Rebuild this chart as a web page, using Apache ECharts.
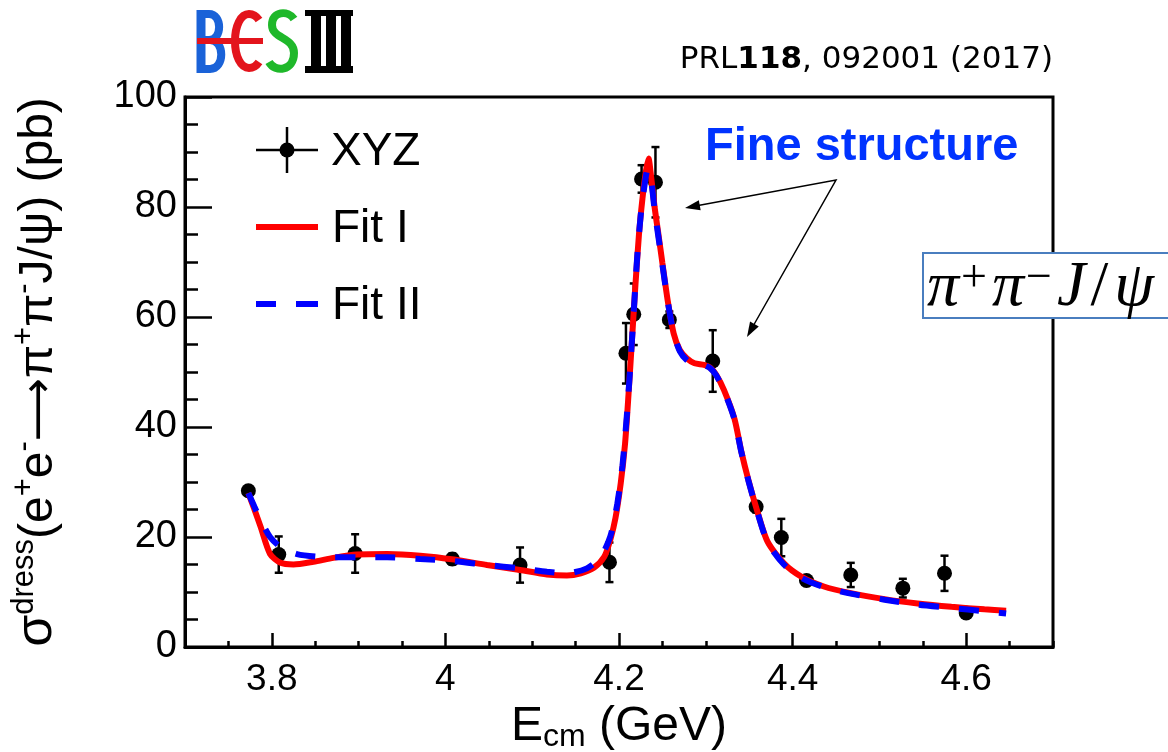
<!DOCTYPE html>
<html><head><meta charset="utf-8">
<script src="https://cdn.jsdelivr.net/npm/echarts@6/dist/echarts.min.js"></script>
<style>html,body{margin:0;padding:0;background:#fff}#c{width:1168px;height:752px}</style>
</head><body><div id="c"></div>
<script>
// ---- data ----
const energies = [3.773, 3.808, 3.896, 4.008, 4.086, 4.189, 4.208, 4.217, 4.226, 4.242, 4.258, 4.308, 4.358, 4.387, 4.416, 4.467, 4.527, 4.575, 4.600];
const xsec     = [28.4, 16.8, 17.0, 16.0, 14.9, 15.4, 53.4, 60.5, 85.1, 84.5, 59.5, 52.0, 25.5, 19.9, 12.1, 13.1, 10.7, 13.4, 6.2];
const xsecErr  = [0.8, 3.3, 3.5, 1.0, 3.2, 3.6, 5.5, 5.6, 2.5, 6.4, 1.5, 5.6, 1.0, 3.4, 0.8, 2.2, 1.7, 3.2, 0.8];

const fit1E = [3.773,3.780,3.787,3.798,3.810,3.825,3.848,3.871,3.898,3.933,3.971,4.010,4.048,4.086,4.117,4.140,4.156,4.171,4.183,4.190,4.196,4.202,4.207,4.211,4.215,4.219,4.223,4.227,4.231,4.234,4.237,4.241,4.245,4.250,4.256,4.263,4.270,4.278,4.287,4.298,4.305,4.312,4.321,4.333,4.341,4.349,4.358,4.371,4.390,4.410,4.436,4.467,4.506,4.544,4.583,4.621,4.646];
const fit1  = [28.0,25.0,21.9,16.9,15.3,15.0,15.5,16.2,16.8,16.9,16.6,15.9,14.9,14.0,13.2,13.0,13.4,14.4,16.4,19.5,23.5,29.8,37.0,46.0,56.0,66.0,75.0,81.5,86.5,88.8,85.5,80.0,75.5,69.8,63.1,57.0,54.0,52.5,51.6,51.3,50.8,49.5,46.7,41.5,35.5,30.4,25.4,19.2,15.2,12.8,11.0,9.8,8.7,7.9,7.3,6.85,6.6];

const fit2E = [3.773,3.780,3.787,3.798,3.810,3.829,3.856,3.898,3.933,3.971,4.010,4.048,4.086,4.117,4.140,4.163,4.179,4.190,4.198,4.204,4.209,4.213,4.217,4.221,4.225,4.229,4.233,4.237,4.241,4.245,4.250,4.256,4.263,4.270,4.278,4.287,4.298,4.305,4.312,4.321,4.333,4.341,4.349,4.358,4.371,4.390,4.410,4.436,4.467,4.506,4.544,4.583,4.621,4.646];
const fit2  = [28.0,25.5,23.1,20.0,18.2,16.9,16.4,16.3,16.3,16.0,15.6,14.9,14.3,13.7,13.4,14.3,16.4,20.1,26.0,33.0,42.0,51.0,61.0,71.0,78.5,83.5,86.8,84.8,79.5,75.0,69.5,63.0,57.0,53.8,52.2,51.4,51.2,50.7,49.4,46.6,41.4,35.4,30.3,25.3,19.1,15.0,12.6,10.9,9.7,8.6,7.7,7.1,6.5,6.1];

const xMajorTicks = [3.8, 4.0, 4.2, 4.4, 4.6];
const seriesNames = ['XYZ', 'Fit I', 'Fit II'];

// ---- build ----
const FONT = 'Liberation Sans, Arial, Helvetica, sans-serif';
const pts = energies.map((e, i) => [e, xsec[i]]);
const errs = energies.map((e, i) => [e, xsec[i] - xsecErr[i], xsec[i] + xsecErr[i]]);
const f1 = fit1E.map((e, i) => [e, fit1[i]]);
const f2 = fit2E.map((e, i) => [e, fit2[i]]);

const chart = echarts.init(document.getElementById('c'), null, {renderer: 'canvas'});

const arrowHead = (tx, ty, sx, sy) => {
  const dx = tx - sx, dy = ty - sy, L = Math.hypot(dx, dy);
  const ux = dx / L, uy = dy / L, hl = 15, hw = 5;
  const bx = tx - hl * ux, by = ty - hl * uy;
  return [[tx, ty], [bx - hw * uy, by + hw * ux], [bx + hw * uy, by - hw * ux]];
};
const seg = (x1, y1, x2, y2, color, w) => ({type: 'line', z: 10, shape: {x1, y1, x2, y2}, style: {stroke: color, lineWidth: w, lineCap: 'butt'}});
const bez = (x1, y1, c1x, c1y, c2x, c2y, x2, y2, color, w) => ({type: 'bezierCurve', z: 10,
  shape: {x1, y1, x2, y2, cpx1: c1x, cpy1: c1y, cpx2: c2x, cpy2: c2y}, style: {stroke: color, lineWidth: w, fill: null, lineCap: 'butt'}});
const BLUE = '#1a62d8', RED = '#e3141c', GREEN = '#1fb82a';

const logo = [
  seg(201, 10, 201, 73, BLUE, 9),
  seg(201, 14, 209, 14, BLUE, 8),
  bez(209, 14, 222.5, 14, 222.5, 40, 209, 40, BLUE, 8),
  seg(201, 40, 210, 40, BLUE, 8),
  bez(210, 40, 225, 40, 225, 69, 210, 69, BLUE, 8),
  seg(201, 69, 210, 69, BLUE, 8),
  bez(259, 20, 256, 15.5, 253, 14, 249, 14, RED, 8),
  bez(249, 14, 240.5, 14, 235, 26.1, 235, 41, RED, 8),
  bez(235, 41, 235, 55.9, 240.5, 68, 249, 68, RED, 8),
  bez(249, 68, 253, 68, 256, 66.5, 259, 62, RED, 8),
  seg(197, 41, 263, 41, RED, 6),
  bez(294, 19, 288, 10, 272, 11, 272, 25, GREEN, 8),
  bez(272, 25, 272, 39, 294, 37, 294, 53, GREEN, 8),
  bez(294, 53, 294, 71, 275, 73, 269, 62, GREEN, 8),
  {type: 'rect', z: 10, shape: {x: 305, y: 10, width: 48, height: 6}, style: {fill: '#000'}},
  {type: 'rect', z: 10, shape: {x: 305, y: 66, width: 48, height: 7}, style: {fill: '#000'}},
  {type: 'rect', z: 10, shape: {x: 311, y: 10, width: 10, height: 63}, style: {fill: '#000'}},
  {type: 'rect', z: 10, shape: {x: 326, y: 10, width: 10, height: 63}, style: {fill: '#000'}},
  {type: 'rect', z: 10, shape: {x: 341, y: 10, width: 10, height: 63}, style: {fill: '#000'}}
];

const option = {
  animation: false,
  backgroundColor: '#fff',
  grid: {left: 185, top: 97, right: 115, bottom: 105, outerBoundsMode: 'none', containLabel: false,
    show: true, borderColor: '#000', borderWidth: 3, backgroundColor: 'transparent'},
  xAxis: [{
    type: 'value', min: 3.7, max: 4.7, position: 'bottom',
    axisLine: {show: true, onZero: false, lineStyle: {color: '#000', width: 3}},
    axisTick: {show: true, inside: true, length: 14, customValues: xMajorTicks, lineStyle: {color: '#000', width: 2.5}},
    axisLabel: {customValues: xMajorTicks, color: '#000', fontFamily: FONT, fontSize: 37, margin: 14,
      formatter: v => String(Math.round(v * 10) / 10)},
    splitLine: {show: false},
    name: '{n|E}{sub|cm}{n| (GeV)}', nameLocation: 'middle', nameGap: 56,
    nameTextStyle: {rich: {
      n: {fontFamily: FONT, fontSize: 48, color: '#000', lineHeight: 50, verticalAlign: 'top'},
      sub: {fontFamily: FONT, fontSize: 32, color: '#000', lineHeight: 20, verticalAlign: 'bottom'}
    }}
  }, {
    type: 'value', min: 3.7, max: 4.7, interval: 0.05, position: 'bottom',
    axisLine: {show: false, onZero: false},
    axisTick: {show: true, inside: true, length: 6, lineStyle: {color: '#000', width: 2.5}},
    axisLabel: {show: false}, splitLine: {show: false}
  }],
  yAxis: {
    type: 'value', min: 0, max: 100, interval: 20,
    axisLine: {show: true, onZero: false, lineStyle: {color: '#000', width: 3}},
    axisTick: {show: true, inside: true, length: 27, lineStyle: {color: '#000', width: 2.5}},
    minorTick: {show: true, splitNumber: 4, length: 13, lineStyle: {color: '#000', width: 2.5}},
    axisLabel: {color: '#000', fontFamily: FONT, fontSize: 38, margin: 8},
    splitLine: {show: false},
    name: '{s|σ}{sup|dress}{n|(e}{sup|+}{n|e}{sup|-}{a|⟶}{n|π}{sup|+}{n|π}{sup|-}{n|J/ψ) (pb)}',
    nameLocation: 'middle', nameRotate: 90, nameGap: 122,
    nameTextStyle: {rich: {
      s: {fontFamily: FONT, fontSize: 52, color: '#000', lineHeight: 54, verticalAlign: 'bottom'},
      n: {fontFamily: FONT, fontSize: 48, color: '#000', lineHeight: 54, verticalAlign: 'bottom'},
      a: {fontFamily: '"DejaVu Sans", sans-serif', fontSize: 44, color: '#000', lineHeight: 54, verticalAlign: 'bottom'},
      sup: {fontFamily: FONT, fontSize: 31, color: '#000', lineHeight: 22, verticalAlign: 'top'}
    }}
  },
  series: [{
    type: 'custom', name: seriesNames[0] + ' errors', z: 2,
    data: errs,
    renderItem: (params, api) => {
      const x = api.value(0);
      const p1 = api.coord([x, api.value(2)]);
      const p2 = api.coord([x, api.value(1)]);
      const st = {stroke: '#000', lineWidth: 2.5};
      return {type: 'group', children: [
        {type: 'line', shape: {x1: p1[0], y1: p1[1], x2: p2[0], y2: p2[1]}, style: st},
        {type: 'line', shape: {x1: p1[0] - 4, y1: p1[1], x2: p1[0] + 4, y2: p1[1]}, style: st},
        {type: 'line', shape: {x1: p2[0] - 4, y1: p2[1], x2: p2[0] + 4, y2: p2[1]}, style: st}
      ]};
    }
  }, {
    type: 'scatter', name: seriesNames[0], data: pts, symbol: 'circle', symbolSize: 15, z: 3,
    itemStyle: {color: '#000', opacity: 1}
  }, {
    type: 'line', name: seriesNames[1], data: f1, showSymbol: false, smooth: 0.25, z: 4,
    lineStyle: {color: '#ff0000', width: 6, cap: 'butt'}
  }, {
    type: 'line', name: seriesNames[2], data: f2, showSymbol: false, smooth: 0.25, z: 5,
    lineStyle: {color: '#0000ff', width: 6, type: [20, 20], cap: 'butt'}
  }],
  graphic: logo.concat([
    // reference
    {type: 'text', z: 10, x: 1053, y: 60, style: {
      text: '{a|PRL}{b|118}{a|, 092001 (2017)}', align: 'right', verticalAlign: 'middle',
      rich: {a: {fontFamily: '"Comic Sans MS", "DejaVu Sans", sans-serif', fontSize: 31, fill: '#000'},
             b: {fontFamily: '"Comic Sans MS", "DejaVu Sans", sans-serif', fontSize: 31, fontWeight: 'bold', fill: '#000'}}}},
    // legend
    {type: 'line', z: 10, shape: {x1: 256, y1: 150, x2: 318, y2: 150}, style: {stroke: '#000', lineWidth: 2.5}},
    {type: 'line', z: 10, shape: {x1: 287, y1: 127, x2: 287, y2: 173}, style: {stroke: '#000', lineWidth: 2.5}},
    {type: 'circle', z: 10, shape: {cx: 287, cy: 150, r: 7.5}, style: {fill: '#000'}},
    {type: 'text', z: 10, x: 331, y: 152, style: {text: seriesNames[0], font: '46px ' + FONT, fill: '#000', verticalAlign: 'middle'}},
    {type: 'line', z: 10, shape: {x1: 256, y1: 227, x2: 318, y2: 227}, style: {stroke: '#ff0000', lineWidth: 6}},
    {type: 'text', z: 10, x: 332, y: 229, style: {text: seriesNames[1], font: '46px ' + FONT, fill: '#000', verticalAlign: 'middle'}},
    {type: 'line', z: 10, shape: {x1: 256, y1: 304, x2: 276, y2: 304}, style: {stroke: '#0000ff', lineWidth: 6}},
    {type: 'line', z: 10, shape: {x1: 296, y1: 304, x2: 318, y2: 304}, style: {stroke: '#0000ff', lineWidth: 6}},
    {type: 'text', z: 10, x: 332, y: 306, style: {text: seriesNames[2], font: '46px ' + FONT, fill: '#000', verticalAlign: 'middle'}},
    // annotation
    {type: 'text', z: 10, x: 705, y: 147, style: {text: 'Fine structure', font: 'bold 47px ' + FONT, fill: '#0033ff', verticalAlign: 'middle'}},
    {type: 'polyline', z: 10, shape: {points: [[690, 207], [836, 180], [752, 328]]}, style: {stroke: '#000', lineWidth: 1.5, fill: null}},
    {type: 'polygon', z: 10, shape: {points: arrowHead(685, 208, 836, 180)}, style: {fill: '#000'}},
    {type: 'polygon', z: 10, shape: {points: arrowHead(747, 337, 836, 180)}, style: {fill: '#000'}},
    // process label box
    {type: 'rect', z: 20, shape: {x: 923, y: 253, width: 260, height: 65}, style: {fill: '#fff', stroke: '#4a7ebf', lineWidth: 2}},
    {type: 'text', z: 21, x: 927, y: 288, style: {
      text: '{i|π}{sp|+}{i|π}{sp|−}{i|J}{n|/}{i|ψ}', verticalAlign: 'middle',
      rich: {
        i: {fontFamily: '"Liberation Serif", "DejaVu Serif", serif', fontStyle: 'italic', fontSize: 64, fill: '#000', lineHeight: 64, verticalAlign: 'bottom'},
        n: {fontFamily: '"Liberation Serif", "DejaVu Serif", serif', fontSize: 64, fill: '#000', lineHeight: 64, verticalAlign: 'bottom', padding: [0, 6, 0, 5]},
        sp: {fontFamily: '"Liberation Serif", "DejaVu Serif", serif', fontSize: 46, fill: '#000', lineHeight: 34, verticalAlign: 'top', padding: [0, 5, 0, 2]}
      }}}
  ])
};
chart.setOption(option);
</script>
</body></html>
